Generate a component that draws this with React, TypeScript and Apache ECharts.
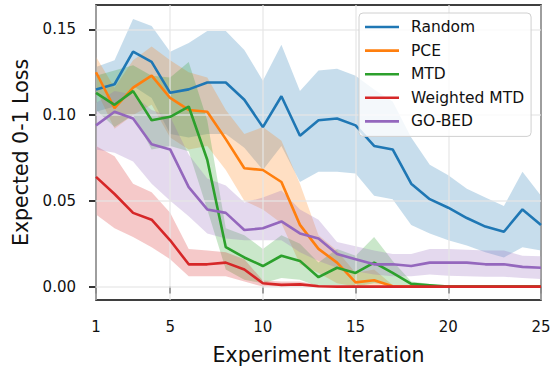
import React, { useEffect, useRef } from "react";
import * as echarts from "echarts";

// Experiment iterations on the x axis
const iterations = [1, 2, 3, 4, 5, 6, 7, 8, 9, 10, 11, 12, 13, 14, 15, 16, 17, 18, 19, 20, 21, 22, 23, 24, 25];

// Mean expected 0-1 loss per method, with lower / upper band bounds
const randomMean = [0.115, 0.118, 0.137, 0.131, 0.113, 0.115, 0.119, 0.119, 0.109, 0.093, 0.111, 0.088, 0.097, 0.098, 0.094, 0.082, 0.080, 0.060, 0.051, 0.046, 0.040, 0.035, 0.032, 0.045, 0.036];
const randomUpper = [0.128, 0.132, 0.156, 0.152, 0.137, 0.142, 0.149, 0.149, 0.138, 0.120, 0.141, 0.114, 0.126, 0.127, 0.123, 0.115, 0.108, 0.087, 0.071, 0.065, 0.057, 0.052, 0.047, 0.067, 0.053];
const randomLower = [0.102, 0.105, 0.117, 0.110, 0.089, 0.087, 0.089, 0.089, 0.081, 0.068, 0.082, 0.061, 0.067, 0.067, 0.066, 0.053, 0.051, 0.036, 0.031, 0.027, 0.024, 0.020, 0.017, 0.023, 0.021];

const pceMean = [0.125, 0.104, 0.116, 0.123, 0.110, 0.103, 0.102, 0.086, 0.069, 0.068, 0.061, 0.036, 0.022, 0.014, 0.0025, 0.0037, 0.0002, 0, 0, 0, 0, 0, 0, 0, 0];
const pceUpper = [0.134, 0.116, 0.132, 0.140, 0.132, 0.125, 0.122, 0.103, 0.089, 0.093, 0.085, 0.060, 0.030, 0.021, 0.008, 0.010, 0.001, 0, 0, 0, 0, 0, 0, 0, 0];
const pceLower = [0.115, 0.092, 0.100, 0.106, 0.087, 0.080, 0.082, 0.068, 0.050, 0.045, 0.037, 0.013, 0.008, 0.002, 0, 0, 0, 0, 0, 0, 0, 0, 0, 0, 0];

const mtdMean = [0.113, 0.106, 0.114, 0.097, 0.099, 0.105, 0.074, 0.023, 0.017, 0.012, 0.018, 0.015, 0.0055, 0.011, 0.008, 0.014, 0.008, 0.0016, 0.0008, 0, 0, 0, 0, 0, 0];
const mtdUpper = [0.123, 0.126, 0.129, 0.123, 0.122, 0.131, 0.097, 0.034, 0.030, 0.022, 0.030, 0.025, 0.014, 0.022, 0.018, 0.029, 0.015, 0.003, 0.0015, 0, 0, 0, 0, 0, 0];
const mtdLower = [0.103, 0.093, 0.100, 0.080, 0.082, 0.079, 0.045, 0.010, 0.004, 0.002, 0.005, 0.004, 0, 0.001, 0, 0.002, 0.001, 0, 0, 0, 0, 0, 0, 0, 0];

const weightedMean = [0.064, 0.054, 0.043, 0.039, 0.027, 0.013, 0.013, 0.014, 0.010, 0.002, 0.001, 0.0013, 0.0002, 0, 0, 0, 0, 0, 0, 0, 0, 0, 0, 0, 0];
const weightedUpper = [0.082, 0.076, 0.060, 0.055, 0.043, 0.022, 0.021, 0.020, 0.016, 0.0035, 0.003, 0.003, 0.001, 0, 0, 0, 0, 0, 0, 0, 0, 0, 0, 0, 0];
const weightedLower = [0.042, 0.034, 0.029, 0.023, 0.016, 0.006, 0.006, 0.006, 0.003, 0, 0, 0, 0, 0, 0, 0, 0, 0, 0, 0, 0, 0, 0, 0, 0];

const gobedMean = [0.094, 0.102, 0.098, 0.083, 0.080, 0.058, 0.045, 0.043, 0.033, 0.034, 0.038, 0.031, 0.028, 0.019, 0.016, 0.013, 0.013, 0.012, 0.014, 0.014, 0.014, 0.013, 0.013, 0.0115, 0.011];
const gobedUpper = [0.107, 0.114, 0.112, 0.103, 0.099, 0.077, 0.063, 0.059, 0.049, 0.052, 0.056, 0.045, 0.039, 0.026, 0.0235, 0.021, 0.019, 0.019, 0.022, 0.022, 0.0215, 0.021, 0.021, 0.018, 0.0177];
const gobedLower = [0.080, 0.078, 0.073, 0.060, 0.050, 0.041, 0.031, 0.028, 0.027, 0.027, 0.027, 0.020, 0.015, 0.011, 0.009, 0.007, 0.006, 0.006, 0.007, 0.0064, 0.006, 0.0057, 0.0057, 0.005, 0.0045];

// Tick positions
const xTicks = [1, 5, 10, 15, 20, 25];
const yTicks = [0, 0.05, 0.1, 0.15];

const methods = [
  { name: "Random", color: "#1f77b4", mean: randomMean, upper: randomUpper, lower: randomLower },
  { name: "PCE", color: "#ff7f0e", mean: pceMean, upper: pceUpper, lower: pceLower },
  { name: "MTD", color: "#2ca02c", mean: mtdMean, upper: mtdUpper, lower: mtdLower },
  { name: "Weighted MTD", color: "#d62728", mean: weightedMean, upper: weightedUpper, lower: weightedLower },
  { name: "GO-BED", color: "#9467bd", mean: gobedMean, upper: gobedUpper, lower: gobedLower },
];

const FONT = "DejaVu Sans";

function withAlpha(hex: string, a: number) {
  const n = parseInt(hex.slice(1), 16);
  return `rgba(${(n >> 16) & 255},${(n >> 8) & 255},${n & 255},${a})`;
}

function buildOption() {
  // Shaded spread of each method: one polygon along the upper bound and back along the lower bound
  const bandSeries = methods.map((m) => ({
    type: "custom",
    name: m.name + " spread",
    silent: true,
    z: 2,
    clip: true,
    data: iterations.map((x, i) => [x, m.lower[i], m.upper[i]]),
    encode: { x: 0, y: [1, 2] },
    renderItem: (params: any, api: any) => {
      if (params.dataIndex !== 0) return null;
      const top = iterations.map((x, i) => api.coord([x, m.upper[i]]));
      const bottom = iterations.map((x, i) => api.coord([x, m.lower[i]])).reverse();
      return {
        type: "polygon",
        shape: { points: [...top, ...bottom] },
        style: { fill: withAlpha(m.color, 0.25), stroke: "none" },
      };
    },
  }));

  const gridSeries = {
    type: "line",
    name: "grid",
    data: [],
    silent: true,
    z: 3,
    markLine: {
      silent: true,
      z: 3,
      symbol: ["none", "none"],
      label: { show: false },
      emphasis: { disabled: true },
      lineStyle: { color: "#e6e6e6", width: 1.5, type: "solid", opacity: 0.8 },
      data: [
        ...xTicks.map((v) => ({ xAxis: v })),
        ...yTicks.map((v) => ({ yAxis: v })),
      ],
    },
  };

  const lineSeries = methods.map((m) => ({
    type: "line",
    name: m.name,
    data: iterations.map((x, i) => [x, m.mean[i]]),
    symbol: "none",
    color: m.color,
    lineStyle: { color: m.color, width: 2.6 },
    z: 4,
  }));

  return {
    animation: false,
    backgroundColor: "#ffffff",
    textStyle: { fontFamily: FONT },
    grid: {
      left: 96,
      right: 18,
      top: 5,
      bottom: 67,
      outerBoundsMode: "none",
      containLabel: false,
      show: true,
      borderColor: "#000",
      borderWidth: 1.6,
      backgroundColor: "transparent",
    },
    legend: {
      data: methods.map((m) => m.name),
      orient: "vertical",
      left: 359,
      top: 13,
      z: 10,
      icon: "rect",
      itemWidth: 34,
      itemHeight: 2.6,
      itemGap: 7.6,
      padding: [6, 7, 7, 6],
      backgroundColor: "rgba(255,255,255,0.8)",
      borderColor: "#d0d0d0",
      borderWidth: 1,
      borderRadius: 4,
      selectedMode: false,
      textStyle: { fontFamily: FONT, fontSize: 15.5, color: "#111", padding: [0, 0, 0, 7] },
    },
    xAxis: {
      type: "value",
      min: 1,
      max: 25,
      name: "Experiment Iteration",
      nameLocation: "middle",
      nameGap: 44,
      nameTextStyle: { fontFamily: FONT, fontSize: 20.5, color: "#111" },
      axisLine: { show: false },
      axisTick: { show: true, customValues: xTicks, length: 7, lineStyle: { color: "#000", width: 1.6 } },
      axisLabel: {
        customValues: xTicks,
        margin: 19,
        fontFamily: FONT,
        fontSize: 15,
        color: "#111",
      },
      splitLine: { show: false },
    },
    yAxis: {
      type: "value",
      min: -0.0078,
      max: 0.1642,
      name: "Expected 0-1 Loss",
      nameLocation: "middle",
      nameGap: 65,
      nameTextStyle: { fontFamily: FONT, fontSize: 20.5, color: "#111" },
      axisLine: { show: false },
      axisTick: { show: true, customValues: yTicks, length: 7, lineStyle: { color: "#000", width: 1.6 } },
      axisLabel: {
        customValues: yTicks,
        margin: 20,
        fontFamily: FONT,
        fontSize: 15,
        color: "#111",
        formatter: (v: number) => v.toFixed(2),
      },
      splitLine: { show: false },
    },
    series: [...bandSeries, gridSeries, ...lineSeries],
  };
}

export default function App() {
  const ref = useRef<HTMLDivElement>(null);
  useEffect(() => {
    if (!ref.current) return;
    const chart = echarts.init(ref.current, null, { renderer: "svg" });
    chart.setOption(buildOption() as any);
    return () => chart.dispose();
  }, []);
  return (
    <div
      ref={ref}
      style={{ position: "absolute", left: 0, top: 0, width: 559, height: 367 }}
    />
  );
}
